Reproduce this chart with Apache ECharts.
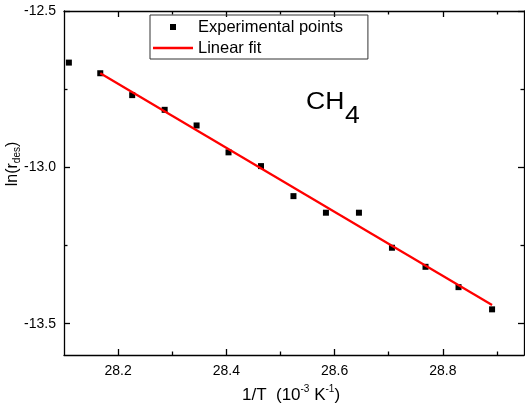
<!DOCTYPE html>
<html><head><meta charset="utf-8">
<script src="https://cdn.jsdelivr.net/npm/echarts@6/dist/echarts.min.js"></script>
<style>html,body{margin:0;padding:0;background:#fff}#c{width:525px;height:409px}</style>
</head><body><div id="c"></div>
<script>
const invT = [28.109, 28.167, 28.226, 28.286, 28.345, 28.404, 28.464, 28.524, 28.584, 28.645, 28.706, 28.768, 28.829, 28.891];
const lnRate = [-12.665, -12.699, -12.769, -12.816, -12.866, -12.952, -12.996, -13.092, -13.145, -13.145, -13.257, -13.318, -13.383, -13.454];
const fitX = [28.167, 28.891];
const fitY = [-12.699, -13.440];
const xMajorTicks = [28.2, 28.4, 28.6, 28.8];
const xMinorTicks = [28.3, 28.5, 28.7, 28.9];
const yMajorTicks = [-13.5, -13.0, -12.5];
const yMinorTicks = [-13.25, -12.75];

const FONT = 'Liberation Sans, Arial, sans-serif';
const X_MIN = 28.1, X_MAX = 28.95, Y_MIN = -13.6, Y_MAX = -12.5;
const lineStyle = {color: '#000', width: 1.3};

function mkX(position, ticks, len, showLine, showLabel) {
  return {
    type: 'value', position: position, min: X_MIN, max: X_MAX,
    axisLine: {show: showLine, onZero: false, lineStyle: lineStyle},
    axisTick: {show: true, inside: true, length: len, customValues: ticks, lineStyle: lineStyle},
    axisLabel: showLabel ? {show: true, customValues: ticks, margin: 9, color: '#000', fontSize: 14, fontFamily: FONT,
      formatter: v => v.toFixed(1)} : {show: false},
    splitLine: {show: false}
  };
}
function mkY(position, ticks, len, showLine, showLabel) {
  return {
    type: 'value', position: position, min: Y_MIN, max: Y_MAX,
    axisLine: {show: showLine, onZero: false, lineStyle: lineStyle},
    axisTick: {show: true, inside: true, length: len, customValues: ticks, lineStyle: lineStyle},
    axisLabel: showLabel ? {show: true, customValues: ticks, margin: 8, color: '#000', fontSize: 14, fontFamily: FONT,
      formatter: v => v.toFixed(1)} : {show: false},
    splitLine: {show: false}
  };
}

const chart = echarts.init(document.getElementById('c'), null, {renderer: 'canvas'});
chart.setOption({
  animation: false,
  backgroundColor: '#fff',
  grid: {left: 64, right: 1, top: 11, bottom: 54, containLabel: false},
  xAxis: [
    mkX('bottom', xMajorTicks, 6, true, true),
    mkX('bottom', xMinorTicks, 3.5, false, false),
    mkX('top', xMajorTicks, 6, true, false),
    mkX('top', xMinorTicks, 3.5, false, false)
  ],
  yAxis: [
    mkY('left', yMajorTicks, 6, true, true),
    mkY('left', yMinorTicks, 3.5, false, false),
    mkY('right', yMajorTicks, 6, true, false),
    mkY('right', yMinorTicks, 3.5, false, false)
  ],
  legend: {
    orient: 'vertical', left: 150, top: 15,
    itemWidth: 40, itemHeight: 6, itemGap: 3,
    padding: [3, 25, 2, 3],
    borderColor: '#333', borderWidth: 1,
    symbolKeepAspect: true,
    textStyle: {fontSize: 16.5, fontFamily: FONT, color: '#000', lineHeight: 18},
    data: [
      {name: 'Experimental points', icon: 'path://M0 0H10V10H0Z', itemStyle: {color: '#000', opacity: 1}},
      {name: 'Linear fit', icon: 'path://M0 0H40V2.4H0Z', itemStyle: {color: '#ff0000'}}
    ]
  },
  series: [
    {
      name: 'Experimental points', type: 'scatter', xAxisIndex: 0, yAxisIndex: 0,
      symbol: 'rect', symbolSize: 6,
      itemStyle: {color: '#000', opacity: 1},
      data: invT.map((x, i) => [x, lnRate[i]]),
      z: 2
    },
    {
      name: 'Linear fit', type: 'line', xAxisIndex: 0, yAxisIndex: 0,
      symbol: 'none', showSymbol: false,
      lineStyle: {color: '#ff0000', width: 2.2},
      itemStyle: {color: '#ff0000'},
      data: fitX.map((x, i) => [x, fitY[i]]),
      z: 3
    }
  ],
  graphic: [
    {
      type: 'text', x: 17, y: 164, rotation: Math.PI / 2,
      style: {
        text: '{a|ln(r}{b|des}{a|)}', align: 'center', verticalAlign: 'middle', fill: '#000',
        rich: {
          a: {fontSize: 16, fontFamily: FONT, fill: '#000', lineHeight: 16, verticalAlign: 'top'},
          b: {fontSize: 10, fontFamily: FONT, fill: '#000', lineHeight: 24, verticalAlign: 'middle'}
        }
      }
    },
    {
      type: 'text', x: 291, y: 394,
      style: {
        text: '{a|1/T  (10}{s|-3}{a| K}{s|-1}{a|)}', align: 'center', verticalAlign: 'middle', fill: '#000',
        rich: {
          a: {fontSize: 17, fontFamily: FONT, fill: '#000', lineHeight: 20, verticalAlign: 'bottom'},
          s: {fontSize: 10, fontFamily: FONT, fill: '#000', lineHeight: 12, verticalAlign: 'top'}
        }
      }
    },
    {
      type: 'text', x: 306, y: 103, scaleX: 1.13,
      style: {text: 'CH', fontSize: 23.5, fontFamily: FONT, fill: '#000', align: 'left', verticalAlign: 'middle'}
    },
    {
      type: 'text', x: 345, y: 116.7, scaleX: 1.13,
      style: {text: '4', fontSize: 23.5, fontFamily: FONT, fill: '#000', align: 'left', verticalAlign: 'middle'}
    }
  ]
});
</script>
</body></html>
